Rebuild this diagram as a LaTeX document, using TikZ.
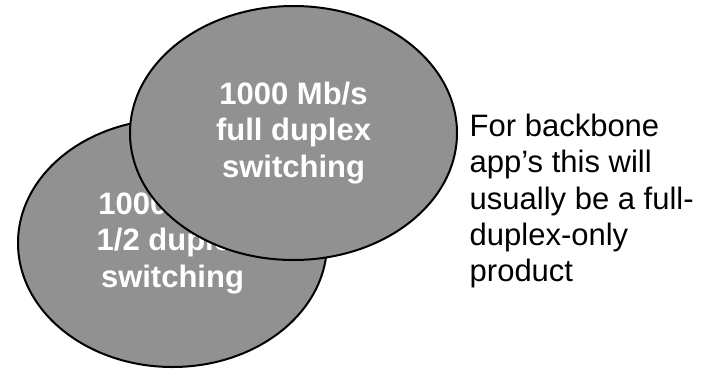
\documentclass[tikz,border=0pt]{standalone}
\usepackage{fontspec}
\setmainfont{Liberation Sans}
\usepackage{tikz}
\usetikzlibrary{shapes.geometric}

\begin{document}
\begin{tikzpicture}[x = 1pt, y = -1pt,
		cell/.style = {ellipse, draw = black, line width = 2pt, fill = black!43, inner sep = 0pt,
			text = white, align = center, font = \fontsize{31}{36.5}\selectfont\bfseries},
		note/.style = {anchor = north west, inner sep = 0pt, align = left,
			font = \fontsize{31}{36.3}\selectfont}]
			\useasboundingbox (0, 0) rectangle (714, 370);
			\node[cell, minimum width = 309pt, minimum height = 248pt] (half) at (172.5, 243) {1000 Mb/s\\1/2 duplex\\switching};
			\node[cell, minimum width = 327pt, minimum height = 254pt] (full) at (293.5, 133) {1000 Mb/s\\full duplex\\switching};
			\node[note] (remark) at (469.5, 114) {For backbone\\app’s this will\\usually be a full-\\duplex-only\\product};
		\end{tikzpicture}
\end{document}
